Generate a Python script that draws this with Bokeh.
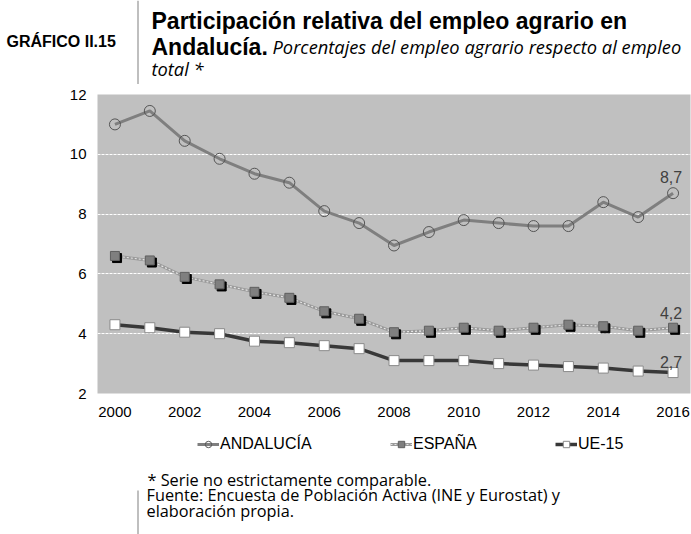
from bokeh.plotting import figure
from bokeh.layouts import column
from bokeh.models import (ColumnDataSource, Range1d, FixedTicker, Label, Legend,
                          LegendItem, BoxAnnotation)
from bokeh.transform import dodge
from bokeh.core.properties import value
from bokeh.embed import file_html
from bokeh.resources import INLINE

# ---------------- data ----------------
years = list(range(2000, 2017))
andalucia = [11.0, 11.45, 10.45, 9.85, 9.35, 9.05, 8.1, 7.7, 6.95, 7.4, 7.8, 7.7, 7.6, 7.6, 8.4, 7.9, 8.7]
espana = [6.6, 6.45, 5.9, 5.65, 5.4, 5.2, 4.75, 4.5, 4.05, 4.1, 4.2, 4.1, 4.2, 4.3, 4.25, 4.1, 4.2]
ue15 = [4.3, 4.2, 4.05, 4.0, 3.75, 3.7, 3.6, 3.5, 3.1, 3.1, 3.1, 3.0, 2.95, 2.9, 2.85, 2.75, 2.7]
series_names = ["ANDALUCÍA", "ESPAÑA", "UE-15"]
x_ticks = [2000, 2002, 2004, 2006, 2008, 2010, 2012, 2014, 2016]
y_ticks = [2, 4, 6, 8, 10, 12]

title_tag = "GRÁFICO II.15"
title_line1 = "Participación relativa del empleo agrario en"
title_bold2 = "Andalucía."
subtitle_a = "Porcentajes del empleo agrario respecto al empleo"
subtitle_b = "total *"
footer_lines = ["* Serie no estrictamente comparable.",
                "Fuente: Encuesta de Población Activa (INE y Eurostat) y",
                "elaboración propia."]

W = 691
H_HEAD, H_MAIN, H_FOOT = 84, 341, 109

src = ColumnDataSource(dict(x=years, a=andalucia, e=espana, u=ue15))


def fmt(v):
    return f"{v:.1f}".replace(".", ",")


last = ColumnDataSource(dict(
    x=[years[-1]] * 3,
    y=[andalucia[-1], espana[-1], ue15[-1]],
    t=[fmt(andalucia[-1]), fmt(espana[-1]), fmt(ue15[-1])],
    off=[-10, -9, -5],
))

# styles
STY_A_LINE = dict(line_color="#7f7f7f", line_width=3)
STY_A_MARK = dict(marker="circle", size=11, fill_color=None, line_color="#555555", line_width=1)
STY_E_LINE1 = dict(line_color="#9a9a9a", line_width=3)
STY_E_LINE2 = dict(line_color="#e6e6e6", line_width=1.2, line_dash="2 2")
STY_E_MARK = dict(marker="square", size=9, fill_color="#7f7f7f", line_color="#5f5f5f", line_width=1)
STY_U_LINE = dict(line_color="#383838", line_width=3.5)
STY_U_MARK = dict(marker="square", size=10, fill_color="white", line_color="#8a8a8a", line_width=1)


def blank_fig(h):
    f = figure(width=W, height=h, output_backend="svg", toolbar_location=None,
               x_range=Range1d(0, 1), y_range=Range1d(0, 1),
               x_axis_type=None, y_axis_type=None,
               min_border=0, min_border_left=0, min_border_right=0,
               min_border_top=0, min_border_bottom=0, frame_align=False)
    f.outline_line_color = None
    f.background_fill_color = "white"
    f.border_fill_color = "white"
    return f


def lab(f, text, x, y, font, size, style="normal", color="black"):
    f.add_layout(Label(x=x, y=y, x_units="screen", y_units="screen", text=text,
                       text_font=font, text_font_size=size, text_font_style=style,
                       text_color=color, text_baseline="alphabetic"))


def vline(f, x, top, bottom):
    f.add_layout(BoxAnnotation(left=x, right=x + 1, top=top, bottom=bottom,
                               left_units="screen", right_units="screen",
                               top_units="screen", bottom_units="screen",
                               fill_color="#808080", fill_alpha=1, line_color=None))


# ---------------- header ----------------
head = blank_fig(H_HEAD)
lab(head, title_tag, 6, 43, "Liberation Sans", "16px", "bold")
lab(head, title_line1, 151, 64, "Liberation Sans", "23px", "bold")
lab(head, title_bold2, 151, 38, "Liberation Sans", "23px", "bold")
lab(head, subtitle_a, 272, 38, "Open Sans", "18.3px", "italic")
lab(head, subtitle_b, 151, 16, "Open Sans", "18.3px", "italic")
vline(head, 137, 84, 0)

# ---------------- main chart ----------------
p = figure(width=W, height=H_MAIN, output_backend="svg", toolbar_location=None,
           x_range=Range1d(1999.5, 2016.5), y_range=Range1d(2, 12),
           min_border_left=97, min_border_right=1, min_border_top=10,
           min_border_bottom=32, frame_align=False)
p.outline_line_color = None
p.background_fill_color = "#c0c0c0"
p.border_fill_color = "white"

for ax in (p.xaxis[0], p.yaxis[0]):
    ax.axis_line_color = None
    ax.major_tick_line_color = None
    ax.minor_tick_line_color = None
    ax.major_label_text_font = "Liberation Sans"
    ax.major_label_text_font_size = "15px"
    ax.major_label_text_color = "black"
p.xaxis.ticker = FixedTicker(ticks=x_ticks)
p.xaxis.major_label_overrides = {t: str(t) for t in x_ticks}
p.xaxis.major_label_standoff = 7
p.yaxis.ticker = FixedTicker(ticks=y_ticks)
p.yaxis.major_label_standoff = 5

p.xgrid.grid_line_color = None
p.ygrid.grid_line_color = "white"
p.ygrid.grid_line_dash = "3 1"
p.ygrid.grid_line_width = 1

p.line("x", "a", source=src, **STY_A_LINE)
p.scatter("x", "a", source=src, **STY_A_MARK)

p.line("x", "e", source=src, **STY_E_LINE1)
p.line("x", "e", source=src, **STY_E_LINE2)
p.scatter(dodge("x", 0.06), dodge("e", -0.07), source=src, marker="square", size=9,
          fill_color="black", line_color="black")
p.scatter("x", "e", source=src, **STY_E_MARK)

p.line("x", "u", source=src, **STY_U_LINE)
p.scatter("x", "u", source=src, **STY_U_MARK)

p.text("x", "y", text="t", source=last, y_offset="off", x_offset=-2,
       text_align="center", text_baseline="bottom",
       text_font=value("Liberation Sans"), text_font_size="16px", text_color="#404040")

# ---------------- footer (legend + notes) ----------------
foot = blank_fig(H_FOOT)
# legend proxies: same series, lying outside the footer's (0..1) view
ka = [foot.line("x", "a", source=src, **STY_A_LINE), foot.scatter("x", "a", source=src, **STY_A_MARK)]
ke = [foot.line("x", "e", source=src, **STY_E_LINE1), foot.line("x", "e", source=src, **STY_E_LINE2),
      foot.scatter("x", "e", source=src, **STY_E_MARK)]
ku = [foot.line("x", "u", source=src, **STY_U_LINE), foot.scatter("x", "u", source=src, **STY_U_MARK)]

leg_pos = [(197, 81), (390, 81), (555, 81)]
for name, pos, rends in zip(series_names, leg_pos, [ka, ke, ku]):
    lg = Legend(items=[LegendItem(label=name, renderers=rends)], location=pos,
                orientation="horizontal", glyph_width=22, glyph_height=16,
                label_height=16, label_standoff=1, padding=0, margin=0,
                border_line_color=None, background_fill_alpha=0,
                label_text_font="Liberation Sans", label_text_font_size="16px",
                label_text_color="black")
    foot.add_layout(lg)

lab(foot, footer_lines[0], 147, 55, "Open Sans", "16.3px")
lab(foot, footer_lines[1], 146, 39.5, "Open Sans", "16.3px")
lab(foot, footer_lines[2], 146, 24, "Open Sans", "16.3px")
vline(foot, 137, 44, 0)

layout = column(head, p, foot, spacing=0)
open("out.html", "w").write(file_html(layout, INLINE))
